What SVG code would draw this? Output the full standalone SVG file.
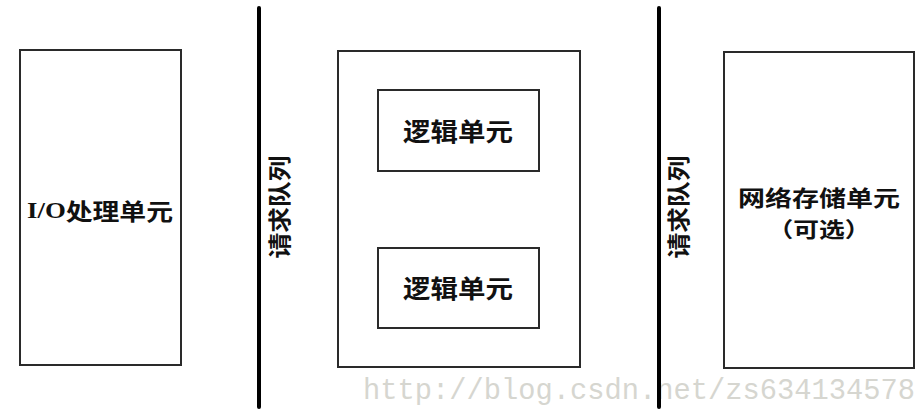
<svg xmlns="http://www.w3.org/2000/svg" width="924" height="415" viewBox="0 0 924 415">
<style>
.box{fill:none;stroke:#2a2a2a;stroke-width:2}
.bar{stroke:#000;stroke-width:4;stroke-linecap:round}
.lbl{font-family:"Noto Sans CJK SC","Liberation Serif",sans-serif;font-weight:bold;fill:#111;text-anchor:middle;dominant-baseline:central}
.wm{font-family:"Liberation Mono",monospace;fill:#d6d6d0;font-size:30px}
</style>
<rect width="924" height="415" fill="#fff"/>
<text class="wm" x="363" y="399" textLength="552" lengthAdjust="spacingAndGlyphs">http://blog.csdn.net/zs634134578</text>
<g id="io">
<rect class="box" x="20" y="50" width="161" height="315"/>
<text class="lbl" x="100" y="210" font-size="23" textLength="146" lengthAdjust="spacingAndGlyphs"><tspan font-family="Liberation Serif">I/O</tspan>处理单元</text>
</g>
<g id="logic">
<rect class="box" x="338" y="51" width="242" height="316"/>
<g id="logic1">
<rect class="box" x="378" y="90" width="161" height="81"/>
<text class="lbl" x="458" y="130" font-size="25" textLength="110" lengthAdjust="spacingAndGlyphs">逻辑单元</text>
</g>
<g id="logic2">
<rect class="box" x="378" y="248" width="161" height="80"/>
<text class="lbl" x="458" y="287" font-size="25" textLength="110" lengthAdjust="spacingAndGlyphs">逻辑单元</text>
</g>
</g>
<g id="storage">
<rect class="box" x="724" y="52" width="190" height="316"/>
<text class="lbl" x="819" y="196" font-size="22" textLength="162" lengthAdjust="spacingAndGlyphs">网络存储单元</text>
<text class="lbl" x="819" y="228" font-size="21" textLength="103" lengthAdjust="spacingAndGlyphs">（可选）</text>
</g>
<g id="connectors">
<g id="queue1">
<line class="bar" x1="259" y1="8" x2="259" y2="407"/>
<text class="lbl" transform="translate(278,207) rotate(-90)" font-size="23" textLength="103" lengthAdjust="spacingAndGlyphs">请求队列</text>
</g>
<g id="queue2">
<line class="bar" x1="659" y1="8" x2="659" y2="407"/>
<text class="lbl" transform="translate(677,207) rotate(-90)" font-size="23" textLength="103" lengthAdjust="spacingAndGlyphs">请求队列</text>
</g>
</g>
</svg>
